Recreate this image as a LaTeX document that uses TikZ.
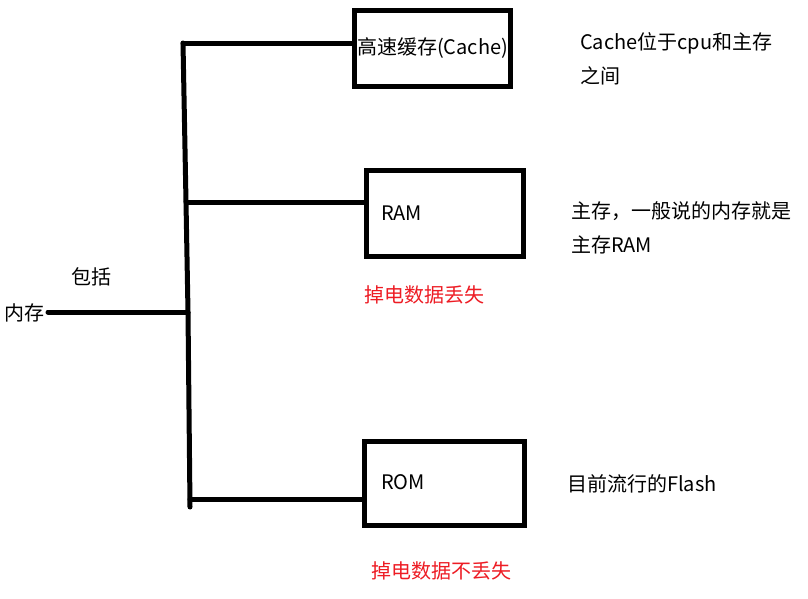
\documentclass[tikz,border=0pt]{standalone}
\usepackage{fontspec}
\setmainfont{Noto Sans CJK SC}
\definecolor{paintred}{RGB}{237,28,36}
\tikzset{
  stroke/.style={line width=5pt, line cap=round, line join=round},
  memboxstyle/.style={draw, line width=5pt, inner sep=0pt},
  lbl/.style={inner sep=0pt, anchor=west, font=\fontsize{20}{34}\selectfont, align=left},
  redlbl/.style={lbl, text=paintred}
}
\begin{document}
\begin{tikzpicture}[x=1pt, y=-1pt]
\useasboundingbox (0,0) rectangle (808,598);
% boxes
\node[memboxstyle, minimum width=156pt, minimum height=76pt, font=\fontsize{20}{24}\selectfont] (cache) at (432.5,48.5) {高速缓存(Cache)};
\node[memboxstyle, minimum width=157pt, minimum height=86pt] (ram) at (445,213.5) {};
\node[memboxstyle, minimum width=160pt, minimum height=84pt] (rom) at (444.5,483.5) {};
% labels
\node[lbl] (mem) at (4,313) {内存};
\node[lbl] (incl) at (71,277) {包括};
\node[lbl] (ramt) at (381,213) {RAM};
\node[lbl] (romt) at (381,482) {ROM};
\node[lbl] (cachenote) at (580,59) {Cache位于cpu和主存\\之间};
\node[lbl] (ramnote) at (571,228) {主存，一般说的内存就是\\主存RAM};
\node[lbl] (romnote) at (567,484) {目前流行的Flash};
\node[redlbl] (ramlost) at (364,295) {掉电数据丢失};
\node[redlbl] (romkeep) at (371,571) {掉电数据不丢失};
% junctions on the bracket
\coordinate (j1) at (183,43);
\coordinate (j2) at (186,202);
\coordinate (j3) at (188,312);
\coordinate (j4b) at (190,499);
\coordinate (j4) at (190,507);
\coordinate (m0) at (48,312);
% connectors
\draw[stroke] (j1) -- (j2) -- (j3) -- (j4);
\draw[stroke] (m0) -- (j3);
\draw[stroke] (j1) -- (cache.west |- j1);
\draw[stroke] (j2) -- (ram.west |- j2);
\draw[stroke] (j4b) -- (rom.west |- j4b);
\end{tikzpicture}
\end{document}
